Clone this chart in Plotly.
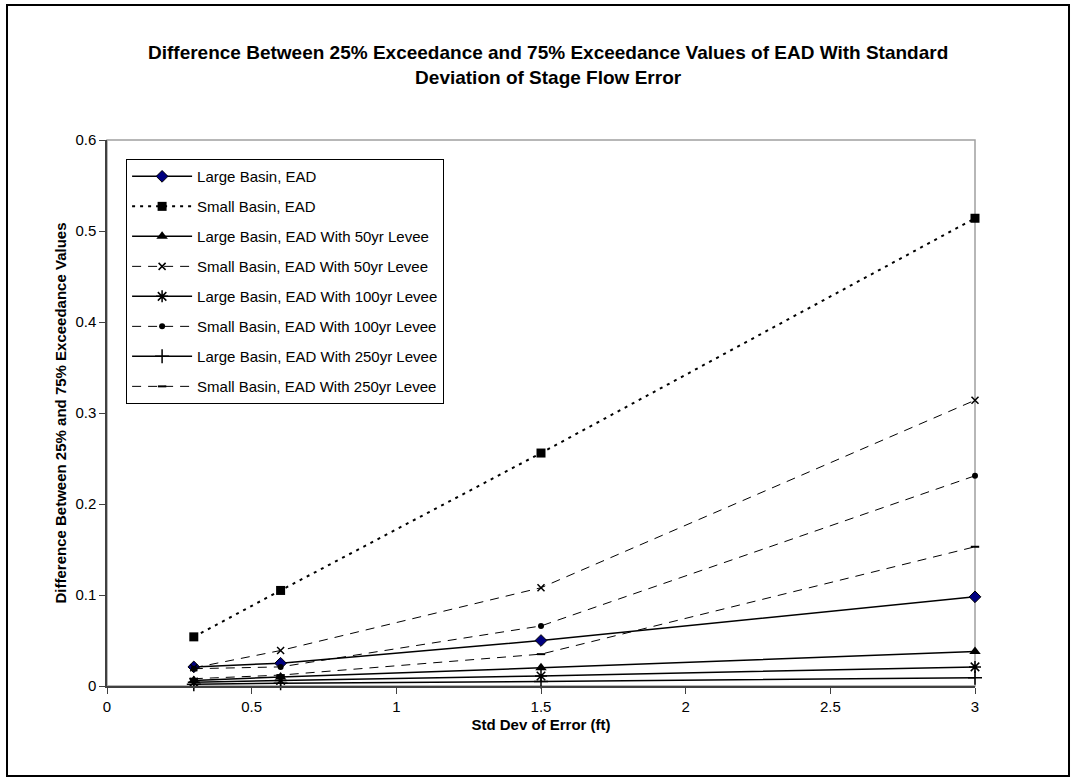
import plotly.graph_objects as go

std_dev = [0.3, 0.6, 1.5, 3]

series_names = [
    "Large Basin, EAD",
    "Small Basin, EAD",
    "Large Basin, EAD With 50yr Levee",
    "Small Basin, EAD With 50yr Levee",
    "Large Basin, EAD With 100yr Levee",
    "Small Basin, EAD With 100yr Levee",
    "Large Basin, EAD With 250yr Levee",
    "Small Basin, EAD With 250yr Levee",
]

large_ead = [0.021, 0.025, 0.050, 0.098]
small_ead = [0.054, 0.105, 0.256, 0.514]
large_50 = [0.006, 0.010, 0.020, 0.038]
small_50 = [0.020, 0.039, 0.108, 0.314]
large_100 = [0.004, 0.006, 0.011, 0.021]
small_100 = [0.019, 0.021, 0.066, 0.231]
large_250 = [0.002, 0.003, 0.005, 0.009]
small_250 = [0.008, 0.012, 0.035, 0.153]

values = [large_ead, small_ead, large_50, small_50, large_100, small_100, large_250, small_250]

title_text = ("Difference Between 25% Exceedance and 75% Exceedance Values of EAD With Standard"
              "<br>Deviation of Stage Flow Error")

styles = [
    dict(line=dict(color="black", width=1.5, dash="solid"),
         marker=dict(symbol="diamond", size=9, color="#000080", line=dict(color="black", width=1))),
    dict(line=dict(color="black", width=2, dash="3px,5px"),
         marker=dict(symbol="square", size=9, color="black")),
    dict(line=dict(color="black", width=1.5, dash="solid"),
         marker=dict(symbol="triangle-up", size=10, color="black")),
    dict(line=dict(color="black", width=1, dash="9px,7px"),
         marker=dict(symbol="x-thin-open", size=7, color="black", line=dict(color="black", width=1.5))),
    dict(line=dict(color="black", width=1.5, dash="solid"),
         marker=dict(symbol="asterisk-open", size=10, color="black", line=dict(color="black", width=1.5))),
    dict(line=dict(color="black", width=1, dash="9px,7px"),
         marker=dict(symbol="circle", size=6, color="black")),
    dict(line=dict(color="black", width=1.5, dash="solid"),
         marker=dict(symbol="cross-thin-open", size=10, color="black", line=dict(color="black", width=1.5))),
    dict(line=dict(color="black", width=1, dash="9px,7px"),
         marker=dict(symbol="line-ew-open", size=6, color="black", line=dict(color="black", width=2))),
]

FONT = "Arial, Liberation Sans, sans-serif"

fig = go.Figure()
for i, (name, vals, st) in enumerate(zip(series_names, values, styles)):
    fig.add_trace(go.Scatter(
        x=std_dev, y=vals, name=name, mode="lines+markers",
        line=st["line"], marker=st["marker"], legendgroup=f"g{i}",
        cliponaxis=False,
    ))

fig.update_layout(
    width=1075, height=782,
    paper_bgcolor="white", plot_bgcolor="white",
    font=dict(family=FONT, color="black", size=15),
    margin=dict(l=107, r=100, t=140, b=96, pad=0),
    showlegend=True,
    legend=dict(
        x=0.022, y=0.965, xanchor="left", yanchor="top",
        bgcolor="white", bordercolor="black", borderwidth=1,
        font=dict(family=FONT, size=15, color="black"),
        tracegroupgap=7.5, itemwidth=60,
    ),
    xaxis=dict(
        range=[0, 3], dtick=0.5, tick0=0, showgrid=False, zeroline=False,
        showline=True, linecolor="#404040", linewidth=1.5,
        ticks="outside", ticklen=6, tickcolor="#404040",
        tickfont=dict(family=FONT, size=15),
        title=dict(text="Std Dev of Error (ft)", standoff=6,
                   font=dict(family=FONT, size=15, weight="bold")),
    ),
    yaxis=dict(
        range=[0, 0.6], dtick=0.1, tick0=0, showgrid=False, zeroline=False,
        showline=True, linecolor="#404040", linewidth=1.5,
        ticks="outside", ticklen=6, tickcolor="#404040",
        tickfont=dict(family=FONT, size=15),
        title=dict(text="Difference Between 25% and 75% Exceedance Values", standoff=5,
                   font=dict(family=FONT, size=15, weight="bold")),
    ),
    annotations=[
        dict(text=title_text, xref="paper", yref="paper", x=0.508, y=1.1374,
             xanchor="center", yanchor="middle", showarrow=False, align="center",
             font=dict(family=FONT, size=19, color="black", weight="bold")),
    ],
    shapes=[
        dict(type="rect", xref="paper", yref="paper", x0=0, x1=1, y0=0, y1=1,
             line=dict(color="#a0a0a0", width=1.5), layer="below"),
        dict(type="rect", xref="paper", yref="paper",
             x0=-0.1152, x1=1.1083, y0=-0.1648, y1=1.2473,
             line=dict(color="black", width=2), layer="below"),
    ],
)

fig.write_html("out.html", config={"displayModeBar": False},
               post_script="document.body.style.margin='0';")
